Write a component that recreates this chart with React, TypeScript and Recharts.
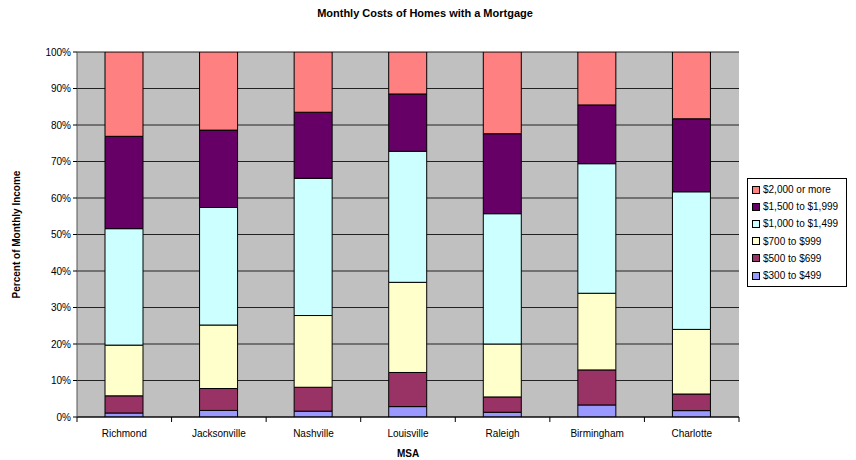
import React from "react";
import { BarChart, Bar, XAxis, YAxis, CartesianGrid } from "recharts";

const categories = ["Richmond", "Jacksonville", "Nashville", "Louisville", "Raleigh", "Birmingham", "Charlotte"];
const s300to499 = [1.1, 1.8, 1.6, 2.85, 1.3, 3.3, 1.75];
const s500to699 = [4.7, 6.0, 6.55, 9.35, 4.2, 9.6, 4.55];
const s700to999 = [13.9, 17.4, 19.65, 24.7, 14.5, 21.0, 17.7];
const s1000to1499 = [31.9, 32.2, 37.6, 35.9, 35.7, 35.5, 37.7];
const s1500to1999 = [25.3, 21.2, 18.1, 15.7, 21.9, 16.1, 20.0];
const s2000plus = [23.1, 21.4, 16.5, 11.5, 22.4, 14.5, 18.3];
const yTicks = [0, 10, 20, 30, 40, 50, 60, 70, 80, 90, 100];

const seriesList = [
  { key: "s300", name: "$300 to $499", values: s300to499, color: "#9999FF" },
  { key: "s500", name: "$500 to $699", values: s500to699, color: "#993366" },
  { key: "s700", name: "$700 to $999", values: s700to999, color: "#FFFFCC" },
  { key: "s1000", name: "$1,000 to $1,499", values: s1000to1499, color: "#CCFFFF" },
  { key: "s1500", name: "$1,500 to $1,999", values: s1500to1999, color: "#660066" },
  { key: "s2000", name: "$2,000 or more", values: s2000plus, color: "#FF8080" },
];

const data = categories.map((c, i) => {
  const row: any = { name: c };
  seriesList.forEach((s) => (row[s.key] = s.values[i]));
  return row;
});

const FONT = "'Liberation Sans', Arial, sans-serif";
const PLOT_LEFT = 77;
const PLOT_RIGHT = 739;
const BAND = (PLOT_RIGHT - PLOT_LEFT) / categories.length;

const XTick = (props: any) => {
  const { x, y, payload, index } = props;
  return (
    <g>
      <line x1={x - BAND / 2} x2={x - BAND / 2} y1={y - 8} y2={y - 3} stroke="#000" />
      {index === categories.length - 1 && (
        <line x1={x + BAND / 2} x2={x + BAND / 2} y1={y - 8} y2={y - 3} stroke="#000" />
      )}
      <text x={x} y={y + 12} textAnchor="middle" fontSize={10} fontFamily={FONT} fill="#000">
        {payload.value}
      </text>
    </g>
  );
};

const LegendBox = () => (
  <div
    style={{
      position: "absolute",
      left: 747,
      top: 178,
      border: "1px solid #000",
      background: "#fff",
      width: 100,
      height: 109,
      boxSizing: "border-box",
      padding: "2px 0 0 4px",
      fontFamily: FONT,
      fontSize: 10,
    }}
  >
    {[...seriesList].reverse().map((s) => (
      <div key={s.key} style={{ display: "flex", alignItems: "center", height: 17.2 }}>
        <span
          style={{
            display: "inline-block",
            width: 6,
            height: 6,
            background: s.color,
            border: "1px solid #000",
            marginRight: 3,
          }}
        />
        <span>{s.name}</span>
      </div>
    ))}
  </div>
);

export default function App() {
  return (
    <div style={{ position: "absolute", left: 0, top: 0, width: 856, height: 460, background: "#fff" }}>
      <div
        style={{
          position: "absolute",
          left: 0,
          width: 856,
          top: 7,
          textAlign: "center",
          fontFamily: FONT,
          fontWeight: "bold",
          fontSize: 11,
        }}
      >
        <span style={{ position: "relative", left: -3 }}>Monthly Costs of Homes with a Mortgage</span>
      </div>
      <BarChart
        width={856}
        height={460}
        data={data}
        margin={{ top: 52, right: 856 - PLOT_RIGHT, bottom: 0, left: 0 }}
        barCategoryGap="30%"
      >
        <CartesianGrid vertical={false} fill="#C0C0C0" stroke="#222" strokeWidth={1} fillOpacity={1} />
        <XAxis
          dataKey="name"
          tick={<XTick />}
          tickLine={false}
          axisLine={{ stroke: "#000" }}
          interval={0}
          height={43}
          label={{
            value: "MSA",
            position: "insideBottom",
            offset: 3,
            style: { fontFamily: FONT, fontSize: 10, fontWeight: "bold", fill: "#000" },
          }}
        />
        <YAxis
          width={PLOT_LEFT}
          domain={[0, 100]}
          ticks={yTicks}
          tickFormatter={(v: number) => `${v}%`}
          tick={{ fontFamily: FONT, fontSize: 10, fill: "#000" }}
          tickLine={{ stroke: "#000" }}
          tickSize={4}
          axisLine={{ stroke: "#555" }}
          allowDataOverflow
          label={{
            value: "Percent of Monthly Income",
            angle: -90,
            position: "insideLeft",
            offset: 16,
            style: { fontFamily: FONT, fontSize: 10, fontWeight: "bold", fill: "#000", textAnchor: "middle" },
          }}
        />
        {seriesList.map((s) => (
          <Bar
            key={s.key}
            dataKey={s.key}
            name={s.name}
            stackId="a"
            fill={s.color}
            stroke="#000"
            strokeWidth={1}
            barSize={38}
            isAnimationActive={false}
          />
        ))}
      </BarChart>
      <LegendBox />
    </div>
  );
}
